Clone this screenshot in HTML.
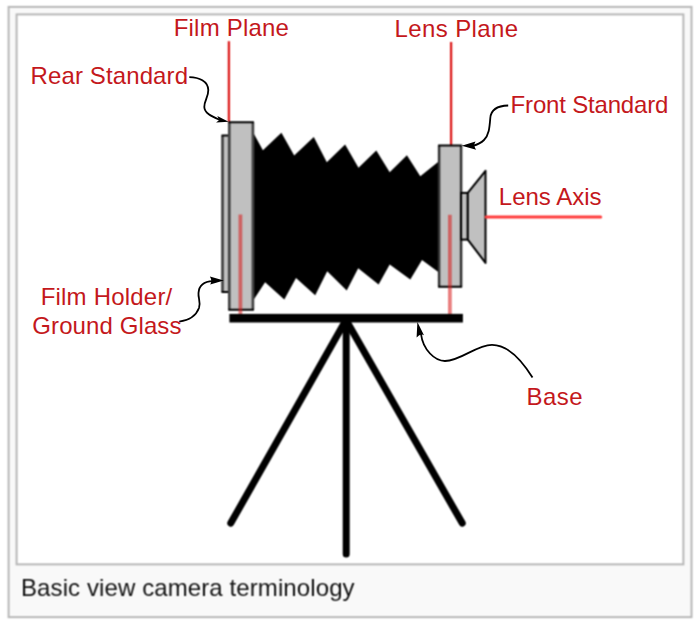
<!DOCTYPE html>
<html><head><meta charset="utf-8"><style>
html,body{margin:0;padding:0;background:#fff;width:700px;height:626px;overflow:hidden}
svg{display:block}
text{font-family:"Liberation Sans",sans-serif}
</style></head><body>
<svg width="700" height="626" viewBox="0 0 700 626">
<defs><filter id="soft" x="0" y="0" width="700" height="626" filterUnits="userSpaceOnUse" color-interpolation-filters="sRGB"><feConvolveMatrix order="3" kernelMatrix="1 2 1 2 4 2 1 2 1" divisor="16" edgeMode="duplicate"/></filter></defs>
<g filter="url(#soft)">
<rect x="0" y="0" width="700" height="626" fill="#fff"/>
<rect x="8.6" y="6.9" width="682.9" height="610.25" fill="#f9f9f9" stroke="#b8b8b8" stroke-width="2"/>
<rect x="16.6" y="14.4" width="666.8" height="549.95" fill="#fff" stroke="#b8b8b8" stroke-width="2"/>

<!-- plane lines -->
<line x1="228.9" y1="41.2" x2="228.9" y2="122" stroke="#dc1c1c" stroke-width="2.3"/>
<line x1="451.1" y1="42" x2="451.1" y2="146" stroke="#dc1c1c" stroke-width="2.3"/>

<!-- bellows -->
<polygon fill="#000" points="253,132.3 262.9,150.3 281.4,132.8 294.2,155.4 313.8,137.1 326.8,162.3 345.1,144.6 358.5,167.8 376.3,150.5 389.7,172.3 406.9,155.2 420.3,176.3 439,161.2 439,272.6 422,260 410.3,279.5 389.7,264.5 378.6,284.6 358.2,268.2 346.7,290.5 327.2,271.2 315.2,295.2 296,278 284.3,299.4 265.1,282.3 253.8,299.4"/>

<!-- film holder -->
<rect x="222.5" y="135.4" width="6.8" height="156.7" fill="#c0c0c0"/><path d="M222.5 135.4V292.1M229.3 135.4V292.1" stroke="#444" stroke-width="2.7" fill="none"/><path d="M221.5 135.4H230.3M221.5 292.1H230.3" stroke="#000" stroke-width="2" fill="none"/>
<!-- rear standard -->
<rect x="229.3" y="122.3" width="23.6" height="187.5" fill="#c0c0c0"/><path d="M229.3 122.3V309.8M252.9 122.3V309.8" stroke="#444" stroke-width="2.7" fill="none"/><path d="M228.3 122.3H253.9M228.3 309.8H253.9" stroke="#000" stroke-width="2" fill="none"/>
<!-- front standard -->
<rect x="439.1" y="145.6" width="22" height="141.2" fill="#c0c0c0"/><path d="M439.1 145.6V286.8M461.1 145.6V286.8" stroke="#333" stroke-width="2.5" fill="none"/><path d="M438.1 145.6H462.1M438.1 286.8H462.1" stroke="#000" stroke-width="2" fill="none"/>
<!-- lens -->
<rect x="461.1" y="192.9" width="6.7" height="46.7" fill="#c0c0c0" stroke="#000" stroke-width="2"/>
<polygon points="467.8,192.9 485.5,170.8 485.5,262.9 467.8,239.6" fill="#c0c0c0" stroke="#000" stroke-width="2" stroke-linejoin="round"/>

<!-- inner red lines -->
<line x1="240.4" y1="214.5" x2="240.4" y2="316.4" stroke="#d81818" stroke-width="3.8" opacity="0.55"/>
<line x1="449.9" y1="214.8" x2="449.9" y2="316" stroke="#d81818" stroke-width="3.8" opacity="0.55"/>
<line x1="486" y1="217" x2="600.7" y2="217" stroke="#ff3c3c" stroke-width="3" stroke-linecap="round"/>

<!-- base -->
<rect x="229.4" y="313.9" width="233.5" height="8.6" fill="#000"/>
<g stroke="#000" stroke-width="7" stroke-linecap="round" fill="none">
<line x1="346" y1="320" x2="230.8" y2="523.1"/>
<line x1="346" y1="320" x2="462.2" y2="523.1"/>
<line x1="346.2" y1="320" x2="346.2" y2="554"/>
</g>

<text x="21" y="596.3" font-size="24" fill="#111" letter-spacing="0.1">Basic view camera terminology</text>
</g>
<!-- arrows -->
<g stroke="#000" stroke-width="1.8" fill="none">
<path d="M189.3 77.1 C199 77.3,208 81,208.3 90 C208.5 97,204 101,204.3 107 C204.5 113,211 116,219.5 119.8"/>
<path d="M508.2 105.5 C498 105.8,491 109,490.3 118 C489.5 128,489 135,484 140 C481 143,478 144.5,473 145.8"/>
<path d="M179.2 321.7 C188 320.5,196 316,199 308 C201 302,198 298,198.5 293 C199 286,204 281.5,212.8 281.2"/>
<path d="M532.5 377.5 C522.5 361.5,508 344.8,492 344.8 C476 344.8,461 361,445 361 C435 361,423 350,421 334"/>
</g>
<g fill="#000">
<path d="M228.6 121.8 L217.3 116.1 L219.2 120 L216.1 122.6 Z"/>
<path d="M461.7 145.8 L475.5 141.5 Q473 145.8 476.2 149.7 Z"/>
<path d="M223.8 280.6 L209.9 276.5 Q212.5 281 210.2 284.5 Z"/>
<path d="M417.4 322.1 L416.6 337.6 Q420.5 333.2 424 335.2 Z"/>
</g>

<!-- labels -->
<g fill="#c4181c" font-size="24">
<text x="173.7" y="36.4" letter-spacing="0.21">Film Plane</text>
<text x="394.6" y="36.6" letter-spacing="0.38">Lens Plane</text>
<text x="30.6" y="83.6" letter-spacing="0.11">Rear Standard</text>
<text x="510.6" y="113.1" letter-spacing="-0.18">Front Standard</text>
<text x="498.8" y="204.9">Lens Axis</text>
<text x="40.7" y="304.6" letter-spacing="0.2">Film Holder/</text>
<text x="32.3" y="333.8" letter-spacing="0.1">Ground Glass</text>
<text x="526.5" y="404.5" letter-spacing="0.5">Base</text>
</g>


</svg>
</body></html>
